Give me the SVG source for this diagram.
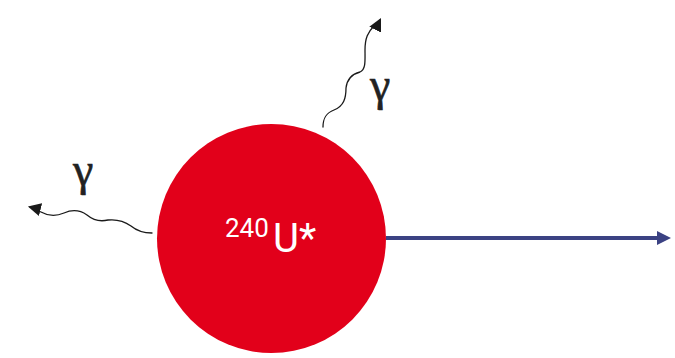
<svg xmlns="http://www.w3.org/2000/svg" width="675" height="358" viewBox="0 0 675 358">
<style>
.wave{fill:none;stroke:#1a1a1a;stroke-width:1.3;stroke-linecap:round}
.gam{font-family:"Liberation Serif",serif;font-size:46px;fill:#222;stroke:#222;stroke-width:0.6}
.lbl{font-family:Roboto,"Liberation Sans",sans-serif;fill:#fff}
</style>
<defs>
<marker id="ah" markerWidth="13" markerHeight="13" refX="10" refY="6" orient="auto" markerUnits="userSpaceOnUse" viewBox="0 0 12 12">
<path d="M0,0 L12,6 L0,12 z" fill="#1a1a1a"/>
</marker>
</defs>
<g id="connectors">
<path id="blue-arrow" d="M386,238 L660,238" stroke="#3b4283" stroke-width="4" fill="none"/>
<path d="M657,231 L671,238 L657,245 z" fill="#3b4283"/>
<path id="gamma-up" class="wave" d="M323,127 C323,118 326,113 334,110 C344,106 346,98 346,88 C347,80 352,74 360,72 C366,70 365,60 365,50 C365,38 368,32 374,26 C378,23 379,22 380,20" marker-end="url(#ah)"/>
<path id="gamma-left" class="wave" d="M152,233 C143,233 137,231 131,226 C124,221 117,219 108,220 C100,222 93,220 87,215 C80,210 73,209 64,213 C55,217 48,216 41,212 C37,210 34,208 30,207" marker-end="url(#ah)"/>
</g>
<g id="nucleus">
<circle cx="271.5" cy="238.5" r="114.5" fill="#e2001a"/>
<text class="lbl" x="225" y="237" font-size="26">240</text>
<text class="lbl" x="273" y="252" font-size="40">U*</text>
</g>
<g id="gamma-top-label"><text class="gam" x="370" y="100">γ</text></g>
<g id="gamma-left-label"><text class="gam" x="73" y="185">γ</text></g>
</svg>
